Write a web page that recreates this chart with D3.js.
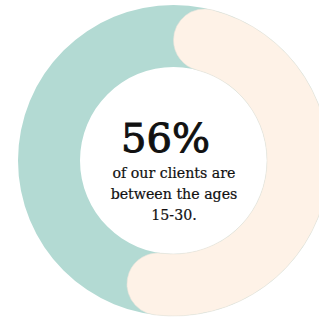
<!DOCTYPE html>
<html>
<head>
<meta charset="utf-8">
<script src="https://cdn.jsdelivr.net/npm/d3@7"></script>
<style>
	html, body { margin: 0; padding: 0; background: #ffffff; }
	svg { display: block; }
</style>
</head>
<body>
<script>
// chart values
var segments = ["clients aged 15-30", "everyone else"];
var shares = [56, 44];
var headline = ["56%"];
var captionLines = ["of our clients are", "between the ages", "15-30."];

var params = {
	width: 319,
	height: 317,
	cx: 173.5,
	cy: 160.5,
	outer: 155.5,
	inner: 93.5,
	track: "#b3dad3",
	fill: "#fef2e7",
	edge: "#e6e2da"
};

var svg = d3.select("body").append("svg")
	.attr("width", params.width)
	.attr("height", params.height);

var g = svg.append("g")
	.attr("transform", "translate(" + params.cx + "," + params.cy + ")");

// percent -> angle
var angle = d3.scaleLinear()
	.domain([0, d3.sum(shares)])
	.range([0, 2 * Math.PI]);

var arc = d3.arc()
	.innerRadius(params.inner)
	.outerRadius(params.outer);

// full ring behind, in the track colour
g.append("path")
	.attr("d", arc({startAngle: angle(0), endAngle: angle(d3.sum(shares))}))
	.style("fill", params.track);

// the highlighted share, rounded at both ends
var rounded = d3.arc()
	.innerRadius(params.inner)
	.outerRadius(params.outer)
	.cornerRadius((params.outer - params.inner) / 2);

g.append("path")
	.attr("class", "share")
	.attr("d", rounded({startAngle: angle(0), endAngle: angle(shares[0])}))
	.style("fill", params.fill)
	.style("stroke", params.edge)
	.style("stroke-width", 0.6);

// centre text
g.append("text")
	.attr("x", -8)
	.attr("y", -8.5)
	.attr("text-anchor", "middle")
	.style("font-family", "'DejaVu Serif', serif")
	.style("font-size", "40px")
	.style("fill", "#111")
	.style("stroke", "#111")
	.style("stroke-width", 1)
	.text(headline[0]);

g.selectAll(".caption")
	.data(captionLines)
	.enter().append("text")
		.attr("class", "caption")
		.attr("x", 0.5)
		.attr("y", function(d, i) { return 17.5 + i * 21; })
		.attr("text-anchor", "middle")
		.style("font-family", "'DejaVu Serif', serif")
		.style("font-size", "14.2px")
		.style("fill", "#111")
		.style("stroke", "#111")
		.style("stroke-width", 0.2)
		.text(function(d) { return d; });
</script>
</body>
</html>
